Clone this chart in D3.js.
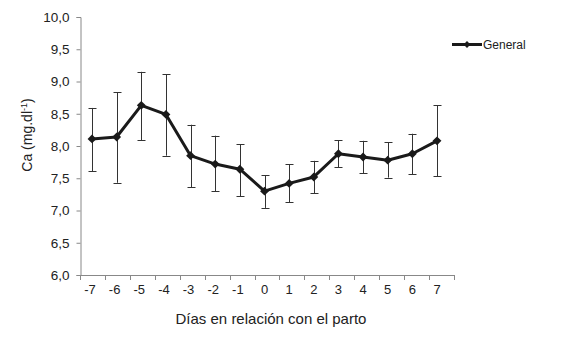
<!DOCTYPE html>
<html>
<head>
<meta charset="utf-8">
<script src="https://cdn.jsdelivr.net/npm/d3@7"></script>
<style>
  body { margin: 0; background: #fff; }
  text { font-family: "Liberation Sans", Arial, sans-serif; fill: #222; }
</style>
</head>
<body>
<div class="vis-chart"></div>
<script>
const days = [-7, -6, -5, -4, -3, -2, -1, 0, 1, 2, 3, 4, 5, 6, 7];
const calcium = [8.11, 8.14, 8.63, 8.49, 7.85, 7.72, 7.64, 7.30, 7.42, 7.52, 7.88, 7.83, 7.78, 7.88, 8.08];
const upper = [8.59, 8.83, 9.15, 9.11, 8.33, 8.16, 8.03, 7.55, 7.72, 7.77, 8.09, 8.08, 8.06, 8.19, 8.63];
const lower = [7.61, 7.43, 8.09, 7.85, 7.36, 7.30, 7.22, 7.04, 7.13, 7.27, 7.67, 7.58, 7.51, 7.56, 7.53];
const yTicks = [6, 6.5, 7, 7.5, 8, 8.5, 9, 9.5, 10];
const seriesName = "General";

const width = 567, height = 341;
const fmt = d => d3.format(".1f")(d).replace(".", ",");

const svg = d3.select(".vis-chart")
    .append("svg")
    .attr("width", width)
    .attr("height", height);

const data = days.map((d, i) => ({day: d, v: calcium[i], hi: upper[i], lo: lower[i]}));

// scales
const yScale = d3.scaleLinear().domain([6, 10]).range([275, 17]);
const xBand = d3.scaleBand().domain(days).range([80, 454]);
const xScale = d3.scalePoint().domain(days).range([92, 437]);

// y axis
const axisY = d3.axisLeft(yScale)
    .tickValues(yTicks)
    .tickFormat(fmt)
    .tickSize(4)
    .tickPadding(7);
const gy = svg.append("g")
    .attr("transform", "translate(80.5,0)")
    .call(axisY);
gy.selectAll("path, line").attr("stroke", "#888");
gy.selectAll("text").attr("font-size", 13.5).attr("fill", "#222");

// x axis line and tick marks at band edges
const gx = svg.append("g").attr("class", "axis_x");
gx.append("line")
    .attr("x1", 80).attr("x2", 454)
    .attr("y1", 275.5).attr("y2", 275.5)
    .attr("stroke", "#888");
gx.selectAll(".tk")
    .data(days.concat(["end"]))
    .enter().append("line")
    .attr("x1", (d, i) => Math.round(80 + i * xBand.bandwidth()) + 0.5)
    .attr("x2", (d, i) => Math.round(80 + i * xBand.bandwidth()) + 0.5)
    .attr("y1", 275).attr("y2", 280)
    .attr("stroke", "#888");
gx.selectAll(".lbl")
    .data(days)
    .enter().append("text")
    .attr("x", d => xScale(d) - (d < 0 ? 2 : 0))
    .attr("y", 294)
    .attr("text-anchor", "middle")
    .attr("font-size", 13)
    .text(d => d);

// titles
svg.append("text")
    .attr("x", 271).attr("y", 324)
    .attr("text-anchor", "middle")
    .attr("font-size", 15)
    .text("Días en relación con el parto");

const yt = svg.append("text")
    .attr("transform", "translate(32,135) rotate(-90)")
    .attr("text-anchor", "middle")
    .attr("font-size", 14);
yt.append("tspan").text("Ca (mg.dl");
yt.append("tspan").attr("font-size", 9).attr("dy", -5).text("-1");
yt.append("tspan").attr("dy", 5).text(")");

// error bars
const err = svg.append("g").attr("stroke", "#333").attr("stroke-width", 1);
data.forEach(d => {
    const x = Math.round(xScale(d.day)) + 0.5;
    err.append("line").attr("x1", x).attr("x2", x)
        .attr("y1", yScale(d.hi)).attr("y2", yScale(d.lo));
    err.append("line").attr("x1", x - 4).attr("x2", x + 4)
        .attr("y1", Math.round(yScale(d.hi)) + 0.5).attr("y2", Math.round(yScale(d.hi)) + 0.5);
    err.append("line").attr("x1", x - 4).attr("x2", x + 4)
        .attr("y1", Math.round(yScale(d.lo)) + 0.5).attr("y2", Math.round(yScale(d.lo)) + 0.5);
});

// line
const line = d3.line().x(d => xScale(d.day)).y(d => yScale(d.v));
svg.append("path")
    .datum(data)
    .attr("d", line)
    .attr("fill", "none")
    .attr("stroke", "#1a1a1a")
    .attr("stroke-width", 3)
    .attr("stroke-linejoin", "round");

// diamonds
const diamond = d3.symbol().type(d3.symbolDiamond2).size(50);
svg.append("g")
    .selectAll("path")
    .data(data)
    .enter().append("path")
    .attr("d", diamond)
    .attr("transform", d => `translate(${xScale(d.day)},${yScale(d.v)})`)
    .attr("fill", "#1a1a1a");

// legend
const legend = svg.append("g").attr("transform", "translate(452,44.5)");
legend.append("line")
    .attr("x1", 0).attr("x2", 30)
    .attr("stroke", "#1a1a1a").attr("stroke-width", 3);
legend.append("path")
    .attr("d", d3.symbol().type(d3.symbolDiamond2).size(30))
    .attr("transform", "translate(15,0)")
    .attr("fill", "#1a1a1a");
legend.append("text")
    .attr("x", 31).attr("y", 4.5)
    .attr("font-size", 12)
    .text(seriesName);
</script>
</body>
</html>
